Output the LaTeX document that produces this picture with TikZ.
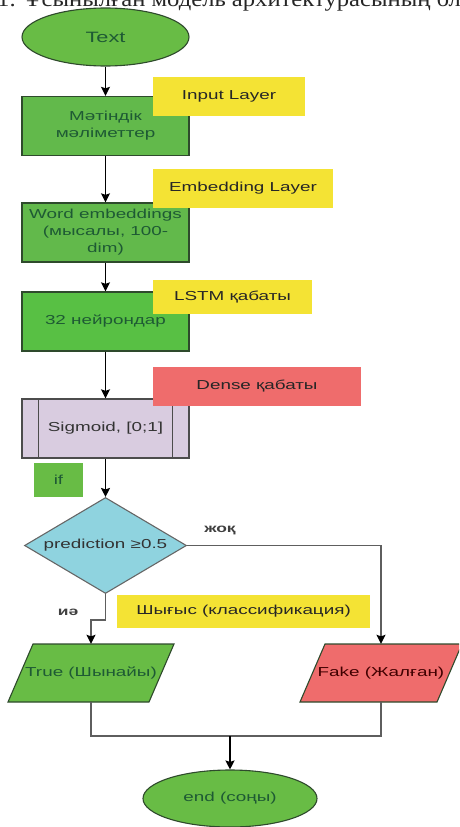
\documentclass[tikz,border=0pt]{standalone}
\usepackage{fontspec}
\setmainfont[FakeStretch=1.45]{Liberation Sans}
\newfontfamily\capfont[FakeStretch=1.12]{Liberation Serif}
\usetikzlibrary{calc, shapes.geometric, arrows.meta}

\definecolor{termgreen}{HTML}{68BC45}
\definecolor{boxgreen}{HTML}{62B94B}
\definecolor{edgegreen}{HTML}{2E4A2C}
\definecolor{textgreen}{HTML}{1E5A34}
\definecolor{tagyellow}{HTML}{F4E334}
\definecolor{tagred}{HTML}{EF6C6C}
\definecolor{sigfill}{HTML}{D9CCE0}
\definecolor{decfill}{HTML}{8FD3DF}
\definecolor{linegray}{HTML}{5E5E5E}

\begin{document}
\begin{tikzpicture}[x=1pt, y=-1pt,
		every node/.style={font=\fontsize{13}{17}\selectfont},
		term/.style={ellipse, draw=edgegreen, line width=1.1pt, fill=termgreen, text=textgreen, inner sep=0pt},
		proc/.style={rectangle, draw=edgegreen, line width=1.3pt, fill=boxgreen, text=textgreen,
			minimum width=167pt, minimum height=59pt, align=center, inner sep=0pt},
		tag/.style={rectangle, fill=tagyellow, text=black!85, inner sep=0pt},
		io/.style={rectangle, minimum width=141pt, minimum height=58pt, inner sep=0pt},
		iobox/.style={draw=edgegreen, line width=1.1pt},
		flow/.style={line width=1.4pt, -{Stealth[length=9pt, width=9pt, inset=1.5pt, color=black]}},
		branch/.style={flow, draw=linegray}
	]
	\useasboundingbox (0,0) rectangle (459,827);
	\clip (0,0) rectangle (459,827);
	
	\def\slant{12.5}
	\coordinate (tc) at (91,673);
	\coordinate (fc) at (381,673);
	\coordinate (join) at (230,736);
	
	% caption remnant, cut at the top
	\node[font=\capfont\fontsize{22}{22}\selectfont, anchor=base west, inner sep=0pt, text=black!85] (cap) at (-3,6.5)
		{1. Ұсынылған модель архитектурасының блок};
	
	\begin{scope}
		\node[term, minimum width=167pt, minimum height=58pt, font=\fontsize{15}{17}\selectfont] (start) at (105.5,37) {Text};
		\node[proc] (in) at (105.5,126) {Мәтіндік\\мәліметтер};
		\node[proc] (emb) at (105.5,232.5) {Word embeddings\\(мысалы, 100-\\dim)};
		\node[proc, fill=boxgreen!90!green] (lstm) at (105.5,321.5) {32 нейрондар};
		\node[proc, fill=sigfill, draw=black!70, text=black!80] (sig) at (105.5,428.5) {Sigmoid, [0;1]};
		\draw[black!70, line width=1.2pt] ($ (sig.north west) + (17,0) $) -- ($ (sig.south west) + (17,0) $);
		\draw[black!70, line width=1.2pt] ($ (sig.north east) + (-17,0) $) -- ($ (sig.south east) + (-17,0) $);
		
		\node[rectangle, fill=termgreen, text=textgreen, minimum width=49pt, minimum height=34pt, inner sep=0pt] (ifbox) at (58.5,480) {if};
		\node[diamond, aspect=1.7, minimum width=162pt, minimum height=96pt, inner sep=0pt,
			draw=black!60, line width=1.1pt, fill=decfill, text=black!80] (dec) at (105.5,545.5) {prediction ≥0.5};
		
		% parallelograms
		\filldraw[iobox, fill=termgreen] ($ (tc) + (-70.5+\slant,-29) $) -- ($ (tc) + (70.5+\slant,-29) $)
			-- ($ (tc) + (70.5-\slant,29) $) -- ($ (tc) + (-70.5-\slant,29) $) -- cycle;
		\filldraw[iobox, fill=tagred] ($ (fc) + (-68.5+\slant,-29) $) -- ($ (fc) + (68.5+\slant,-29) $)
			-- ($ (fc) + (68.5-\slant,29) $) -- ($ (fc) + (-68.5-\slant,29) $) -- cycle;
		\node[io, text=textgreen] (truep) at (tc) {True (Шынайы)};
		\node[io, text=black!75!red] (fakep) at (fc) {Fake (Жалған)};
		
		\node[term, minimum width=174pt, minimum height=57pt] (endn) at (230,798.5) {end (соңы)};
	\end{scope}
	
	\begin{scope}
		\node[tag, minimum width=152pt, minimum height=39pt] (inlbl) at (229,96.5) {Input Layer};
		\node[tag, minimum width=180pt, minimum height=39pt] (emblbl) at (243,188.5) {Embedding Layer};
		\node[tag, minimum width=159pt, minimum height=34pt] (lstmlbl) at (232.5,297) {LSTM қабаты};
		\node[tag, fill=tagred, minimum width=208pt, minimum height=39pt] (denselbl) at (257,386.5) {Dense қабаты};
		\node[tag, minimum width=253pt, minimum height=33pt] (outlbl) at (243.5,611.5) {Шығыс (классификация)};
		
		\node[text=black!75, font=\bfseries\fontsize{12}{14}\selectfont] (nolbl) at (220,530) {жоқ};
		\node[text=black!75, font=\bfseries\fontsize{12}{14}\selectfont] (yeslbl) at (68,612) {иә};
	\end{scope}
	
	\begin{scope}[flow]
		\draw (start) -- (in);
		\draw (in) -- (emb);
		\draw (emb) -- (lstm);
		\draw (lstm) -- (sig);
		\draw (sig) -- (dec);
	\end{scope}
	
	\begin{scope}[branch]
		\draw (dec.east) -| (fakep.north);
		\draw (dec.south) -- ++(0,26) -| (truep.north);
	\end{scope}
	
	\begin{scope}[linegray, line width=1.4pt]
		\draw (truep.south) |- (join);
		\draw (fakep.south) |- (join);
	\end{scope}
	\draw[flow, line width=2.2pt] (join) -- (endn.north);
\end{tikzpicture}
\end{document}
